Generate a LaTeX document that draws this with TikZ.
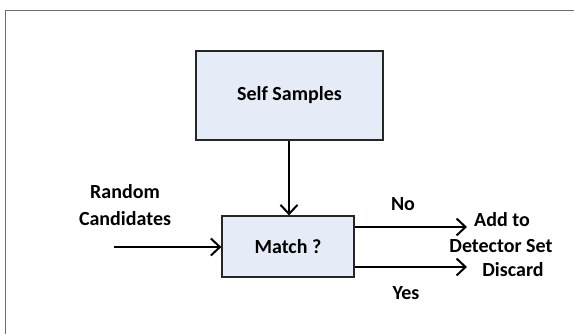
\documentclass[tikz,border=0pt]{standalone}
\usepackage{fontspec}
\setmainfont{Carlito}
\usetikzlibrary{arrows.meta}
\definecolor{boxfill}{HTML}{E6ECF7}
\definecolor{framegray}{HTML}{6E6E6E}
\begin{document}
\begin{tikzpicture}[x=1pt,y=-1pt,
  every node/.style={font=\fontsize{20}{24}\selectfont\bfseries},
  procbox/.style={draw=black!85,line width=1.3pt,fill=boxfill,inner sep=0pt},
  conn/.style={line width=2pt,-{Straight Barb[length=9pt,width=17pt,line width=2pt]}},
  lbl/.style={align=center,inner sep=0pt}]
\useasboundingbox (0,0) rectangle (574,333);
\draw[framegray,line width=1.2pt] (5.5,345) -- (5.5,10.5) -- (590,10.5);
\node[procbox,minimum width=187pt,minimum height=89pt] (self) at (289.5,95.5) {Self Samples};
\node[procbox,minimum width=132pt,minimum height=61pt] (match) at (288,246.5) {Match ?};
\coordinate (inL) at (114,247);
\coordinate (noEnd) at (467,227);
\coordinate (yesEnd) at (467,267);
\draw[conn] (self.south -| 289,0) -- (match.north -| 289,0);
\draw[conn] (inL) -- (match.west |- inL);
\draw[conn] (match.east |- noEnd) -- (noEnd);
\draw[conn] (match.east |- yesEnd) -- (yesEnd);
\node[lbl] (rand) at (125,192) {Random};
\node[lbl] (cand) at (125,219) {Candidates};
\node[lbl] (no) at (403,204) {No};
\node[lbl] (yes) at (406,293) {Yes};
\node[lbl] (add) at (502,220) {Add to};
\node[lbl] (det) at (501,246) {Detector Set};
\node[lbl] (disc) at (513,270) {Discard};
\end{tikzpicture}
\end{document}
